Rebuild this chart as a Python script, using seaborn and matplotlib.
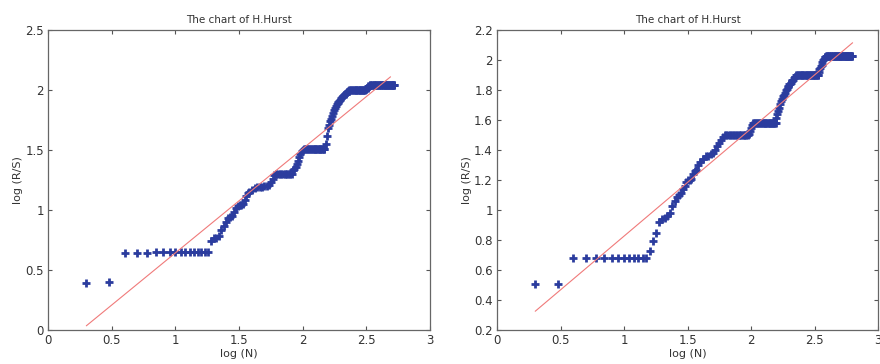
import matplotlib
matplotlib.use("Agg")
import matplotlib.pyplot as plt
import seaborn as sns
import numpy as np
import pandas as pd
from matplotlib.ticker import FormatStrFormatter

# ---------------- data ----------------
# Left panel: window sizes N and log(R/S)
left_n = (
    [2, 3, 4, 5, 6, 7, 8, 9, 10, 11, 12, 13, 14, 15, 16, 17, 18, 19, 20,
     21, 22, 23, 24, 25, 26, 27, 28, 29, 30, 31, 32, 33, 34, 35, 36, 37, 38]
    + [40, 42, 44, 46, 48, 50, 52, 54, 56, 58, 60]
    + [62, 64, 66, 68, 70, 72, 74, 76, 78, 80, 82, 84, 86, 88, 90, 92, 94,
       96, 98]
    + [100, 102, 104, 106, 108, 110, 112, 114, 116, 118, 120, 122, 124, 126,
       128, 130, 132, 134, 136, 138, 140, 142, 144, 146, 148]
    + [152, 155, 158, 161, 164, 167, 170, 173, 176, 179, 182, 185, 188, 191,
       194, 197, 200, 203, 206, 209, 212, 215, 218, 221, 224, 227, 230, 233]
    + [236, 240, 244, 248, 252, 256, 260, 264, 268, 272, 276, 280, 284, 288,
       292, 296, 300, 304, 308]
    + [312, 316, 320, 324, 328, 332, 336]
    + [340, 345, 350, 355, 360, 365, 370, 375, 380, 385, 390, 395, 400, 405,
       410, 415, 420, 425, 430, 435, 440, 445, 450, 455, 460, 465, 470, 475,
       480, 485, 490, 495, 500, 505, 510, 515, 520, 525]
)
left_y = (
    [0.39, 0.40, 0.64, 0.64, 0.64, 0.65] + [0.65] * 11
    + [0.74, 0.77, 0.77, 0.78, 0.83, 0.87, 0.90, 0.93, 0.94, 0.95, 0.98,
       1.02, 1.03, 1.04, 1.04, 1.05, 1.08, 1.12, 1.14, 1.15]
    + [1.17, 1.18, 1.19, 1.19, 1.19, 1.20, 1.20, 1.21, 1.23, 1.26, 1.29]
    + [1.30] * 11 + [1.33, 1.34, 1.36, 1.38, 1.41, 1.44, 1.47, 1.49]
    + [1.50] + [1.51] * 24
    + [1.55, 1.62, 1.68, 1.71, 1.74, 1.76, 1.78, 1.81, 1.83, 1.85, 1.87,
       1.88, 1.89, 1.90, 1.91, 1.92, 1.93, 1.94, 1.95, 1.95, 1.96, 1.97,
       1.97, 1.98, 1.98, 1.99, 1.99, 2.00]
    + [2.00] * 19
    + [2.01, 2.01, 2.02, 2.02, 2.03, 2.03, 2.04]
    + [2.04] * 38
)
left_fit_x = [0.301, 2.69]
left_fit_y = [0.035, 2.11]

# Right panel
right_n = (
    [2, 3, 4, 5, 6, 7, 8, 9, 10, 11, 12, 13, 14, 15, 16, 17, 18, 19, 20,
     21, 22, 23, 24, 25, 26, 27, 28, 29, 30, 31, 32, 33, 34, 35, 36, 37, 38]
    + [40, 42, 44, 46, 48, 50, 52, 54, 56, 58, 60]
    + [62, 64, 66, 68, 70, 72, 74, 76, 78, 80, 82, 84, 86, 88, 90, 92, 94,
       96, 98, 100, 102]
    + [104, 106, 108, 110, 112, 114, 116, 118, 120, 122, 124, 126, 128, 130,
       132, 134, 136, 138, 140, 142, 144, 146, 148, 150, 152, 154, 156]
    + [158, 161, 164, 167, 170, 173, 176, 179, 182, 185, 188, 191, 194, 197,
       200, 203, 206, 209, 212, 215, 218, 221, 224, 227]
    + [230, 234, 238, 242, 246, 250, 254, 258, 262, 266, 270, 274, 278, 282,
       286, 290, 294, 298, 302, 306, 310, 314, 318, 322, 326, 330, 334, 338]
    + [342, 346, 350, 355, 360, 365, 370, 375, 380, 385, 390]
    + [395, 400, 405, 410, 415, 420, 425, 430, 435, 440, 445, 450, 455, 460,
       465, 470, 475, 480, 485, 490, 495, 500, 505, 510, 515, 520, 525, 530,
       535, 540, 545, 550, 555, 560, 565, 570, 575, 580, 585, 590, 595, 600,
       605, 610, 615, 620, 625]
)
right_y = (
    [0.51, 0.51] + [0.68] * 12
    + [0.73, 0.795, 0.85, 0.92, 0.94, 0.945, 0.96, 0.98, 1.03, 1.06, 1.09,
       1.10, 1.11, 1.14, 1.16, 1.19, 1.20, 1.20, 1.21, 1.24, 1.26, 1.27, 1.30]
    + [1.32, 1.34, 1.36, 1.36, 1.37, 1.38, 1.40, 1.43, 1.45, 1.47, 1.49]
    + [1.50] * 17 + [1.51, 1.53, 1.55, 1.57]
    + [1.58] * 27
    + [1.61, 1.64, 1.66, 1.68, 1.71, 1.73, 1.74, 1.76, 1.77, 1.78, 1.80,
       1.81, 1.82, 1.83, 1.84, 1.84, 1.85, 1.86, 1.87, 1.87, 1.88, 1.89,
       1.89, 1.90]
    + [1.90] * 28
    + [1.92, 1.94, 1.95, 1.96, 1.97, 1.99, 2.00, 2.01, 2.02, 2.02, 2.03]
    + [2.03] * 47
)
right_fit_x = [0.301, 2.80]
right_fit_y = [0.325, 2.115]

x_ticks = [0, 0.5, 1, 1.5, 2, 2.5, 3]
left_y_ticks = [0, 0.5, 1, 1.5, 2, 2.5]
right_y_ticks = [0.2, 0.4, 0.6, 0.8, 1, 1.2, 1.4, 1.6, 1.8, 2, 2.2]

title_text = "The chart of H.Hurst"
x_label = "log (N)"
y_label = "log (R/S)"

assert len(left_n) == len(left_y), (len(left_n), len(left_y))
assert len(right_n) == len(right_y), (len(right_n), len(right_y))

# ---------------- plotting ----------------
sns.set_theme(style="white")
plt.rcParams["font.family"] = ["DejaVu Sans"]

fig = plt.figure(figsize=(8.8, 3.64), dpi=100)
ax1 = fig.add_axes([48 / 880, 34 / 364, 382 / 880, 300 / 364])
ax2 = fig.add_axes([497 / 880, 34 / 364, 381 / 880, 300 / 364])

marker_color = "#2b3c9e"
line_color = "#f07a7a"
text_color = "#333333"

panels = [
    (ax1, left_n, left_y, left_fit_x, left_fit_y, left_y_ticks, (0, 2.5)),
    (ax2, right_n, right_y, right_fit_x, right_fit_y, right_y_ticks, (0.2, 2.2)),
]

for ax, n, y, fx, fy, yt, ylim in panels:
    df = pd.DataFrame({"x": np.log10(np.array(n, dtype=float)), "y": y})
    sns.scatterplot(data=df, x="x", y="y", ax=ax, marker="+", s=40,
                    color=marker_color, linewidth=2.0, legend=False, zorder=2)
    fit = pd.DataFrame({"x": fx, "y": fy})
    sns.lineplot(data=fit, x="x", y="y", ax=ax, color=line_color,
                 linewidth=0.8, legend=False, zorder=3)
    ax.set_xlim(0, 3)
    ax.set_ylim(*ylim)
    ax.set_xticks(x_ticks)
    ax.set_yticks(yt)
    ax.xaxis.set_major_formatter(FormatStrFormatter("%g"))
    ax.yaxis.set_major_formatter(FormatStrFormatter("%g"))
    ax.tick_params(direction="in", length=3, width=0.8, colors="#555555",
                   labelcolor=text_color, labelsize=8.5, top=True, right=True,
                   bottom=True, left=True, pad=3)
    for sp in ax.spines.values():
        sp.set_color("#666666")
        sp.set_linewidth(0.9)
    ax.set_title(title_text, fontsize=7.5, color=text_color, pad=5)
    ax.set_xlabel(x_label, fontsize=8, color=text_color, labelpad=1)
    ax.set_ylabel(y_label, fontsize=8, color=text_color, labelpad=1.5)

fig.savefig("out.png", dpi=100)
